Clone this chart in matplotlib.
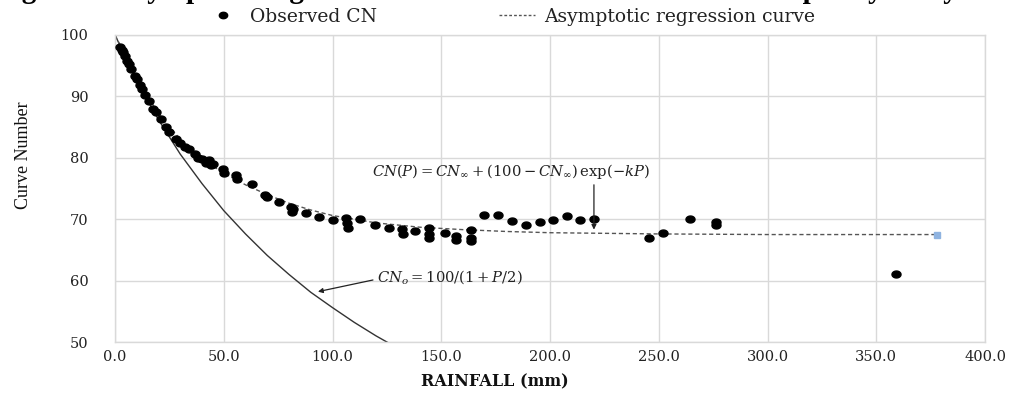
import matplotlib
matplotlib.use("Agg")
import matplotlib.pyplot as plt
from matplotlib.path import Path
from matplotlib.lines import Line2D
import numpy as np

plt.rcParams['mathtext.fontset'] = 'dejavuserif'

# ---- data ----
obs_rain = [2.5, 3.0, 3.5, 4.5, 5.5, 6.5, 7.5, 9.0, 10.0, 11.5, 12.5, 14.0, 15.5, 17.5,
            19.0, 21.0, 23.5, 25.0, 28.0, 30.0, 32.0, 34.0, 37.0, 38.0, 40.0, 42.0,
            43.0, 44.0, 45.0, 49.5, 50.0, 55.5, 56.0, 63.0, 69.0, 70.0, 75.5, 81.0,
            81.5, 82.0, 88.0, 94.0, 100.0, 106.0, 106.5, 107.0, 112.5, 119.5, 126.0,
            132.0, 132.5, 138.0, 144.5, 144.5, 144.5, 151.5, 157.0, 157.0, 163.5,
            163.5, 163.5, 169.5, 176.0, 182.5, 189.0, 195.5, 201.5, 208.0, 214.0,
            220.0, 245.5, 252.0, 264.5, 276.5, 276.5, 359.0]
obs_cn = [98.0, 97.6, 97.2, 96.6, 95.8, 95.2, 94.4, 93.4, 92.8, 91.8, 91.2, 90.2, 89.2, 88.0,
          87.4, 86.4, 85.0, 84.2, 83.0, 82.4, 81.8, 81.4, 80.6, 80.0, 79.8, 79.2,
          79.6, 78.8, 79.0, 78.2, 77.6, 77.2, 76.6, 75.8, 74.0, 73.6, 72.8, 72.0,
          71.2, 71.6, 71.0, 70.3, 69.8, 70.2, 69.3, 68.6, 70.0, 69.0, 68.6,
          68.4, 67.6, 68.0, 68.6, 67.6, 66.9, 67.8, 66.6, 67.2, 66.5,
          67.0, 68.3, 70.7, 70.7, 69.7, 69.1, 69.5, 69.8, 70.6, 69.8,
          70.1, 67.0, 67.8, 70.1, 69.6, 69.0, 61.0]

# asymptotic regression curve
fit_rain = [0, 10, 20, 30, 40, 50, 60, 70, 80, 90, 100, 120, 140, 160, 180, 200, 250, 300, 378]
fit_cn = [100.0, 93.0, 87.2, 83.0, 79.8, 77.5, 75.6, 74.0, 72.6, 71.5, 70.6, 69.4, 68.7,
          68.3, 68.0, 67.8, 67.6, 67.5, 67.5]

# CN0 curve
cn0_rain = [0, 10, 20, 30, 40, 50, 60, 70, 80, 90, 100, 110, 120, 127]
cn0_cn = [100.0, 92.6, 86.2, 80.6, 75.8, 71.4, 67.6, 64.1, 61.0, 58.1, 55.6, 53.2, 51.0, 49.6]

end_point = (378, 67.5)

x_ticks = [0, 50, 100, 150, 200, 250, 300, 350, 400]
y_ticks = [50, 60, 70, 80, 90, 100]

# ---- figure ----
W, H = 1010, 401
fig = plt.figure(figsize=(W / 100, H / 100), dpi=100)
ax = fig.add_axes([115 / W, (H - 342) / H, 870 / W, 307 / H])

# elliptical marker (reference dots are wider than tall)
t = np.linspace(0, 2 * np.pi, 40)
ell = Path(np.column_stack([1.3 * np.cos(t), np.sin(t)]), closed=True)

grid_c = '#d9d9d9'
ax.set_xlim(0, 400)
ax.set_ylim(50, 100)
ax.set_xticks(x_ticks)
ax.set_yticks(y_ticks)
ax.set_xticklabels([f"{v:.1f}" for v in x_ticks], family='DejaVu Serif', fontsize=10.5, color='#222')
ax.set_yticklabels([f"{v:d}" for v in y_ticks], family='DejaVu Serif', fontsize=10.5, color='#222')
ax.tick_params(axis='both', length=0)
ax.tick_params(axis='y', pad=19)
ax.tick_params(axis='x', pad=6)
ax.grid(True, color=grid_c, lw=1.0)
ax.set_axisbelow(True)
for s in ax.spines.values():
    s.set_color(grid_c)
    s.set_linewidth(1.0)

ax.plot(cn0_rain, cn0_cn, color='#333', lw=1.0, zorder=2)
ax.plot(fit_rain, fit_cn, color='#555', lw=1.0, ls=(0, (3, 2)), zorder=2)
ax.plot(obs_rain, obs_cn, ls='none', marker=ell, ms=6.5, color='black', zorder=3)
ax.plot([end_point[0]], [end_point[1]], ls='none', marker='s', ms=4, color='#8fb3e0', zorder=3)

# annotations
ax.annotate('', xy=(220.2, 68.3), xytext=(220.2, 75.6),
            arrowprops=dict(arrowstyle='-|>', color='#222', lw=0.9, mutation_scale=7,
                            shrinkA=0, shrinkB=0))
ax.text(182, 77.7, r'$CN(P) = CN_{\infty} + (100 - CN_{\infty})\,\exp(-kP)$',
        fontsize=10.6, ha='center', va='center', color='#222')
ax.annotate('', xy=(93.3, 58.2), xytext=(118.6, 60.1),
            arrowprops=dict(arrowstyle='-|>', color='#222', lw=0.9, mutation_scale=7,
                            shrinkA=0, shrinkB=0))
ax.text(120.5, 60.6, r'$CN_o = 100/(1 + P/2)$', fontsize=10.6, ha='left', va='center', color='#222')

# legend
handles = [Line2D([], [], ls='none', marker=ell, ms=6, color='black'),
           Line2D([], [], color='#555', lw=1.0, ls=(0, (2, 1.5)))]
fig.legend(handles, ['Observed CN', 'Asymptotic regression curve'],
           loc='center', bbox_to_anchor=(510 / W, 1 - 17 / H), ncol=2, frameon=False,
           prop=dict(family='DejaVu Serif', size=13.5), handlelength=1.9,
           handletextpad=0.5, columnspacing=6.5, borderaxespad=0,
           labelcolor='#222')

# axis titles
fig.text(495 / W, 1 - 382 / H, 'RAINFALL (mm)', family='DejaVu Serif', weight='bold',
         fontsize=11.5, ha='center', va='center', color='#111')
fig.text(24 / W, 1 - 155 / H, 'Curve Number', family='Liberation Serif', fontsize=13,
         rotation=90, ha='center', va='center', color='#111')

# clipped caption at top (only descenders are visible in the reference)
fig.text(-4 / W, 1 + 2 / H, 'Figure 4: Asymptotic regression of curve number with rainfall depth by study',
         family='Liberation Serif', weight='bold', fontsize=21, ha='left', va='baseline', color='black')

fig.savefig('out.png', dpi=100)
